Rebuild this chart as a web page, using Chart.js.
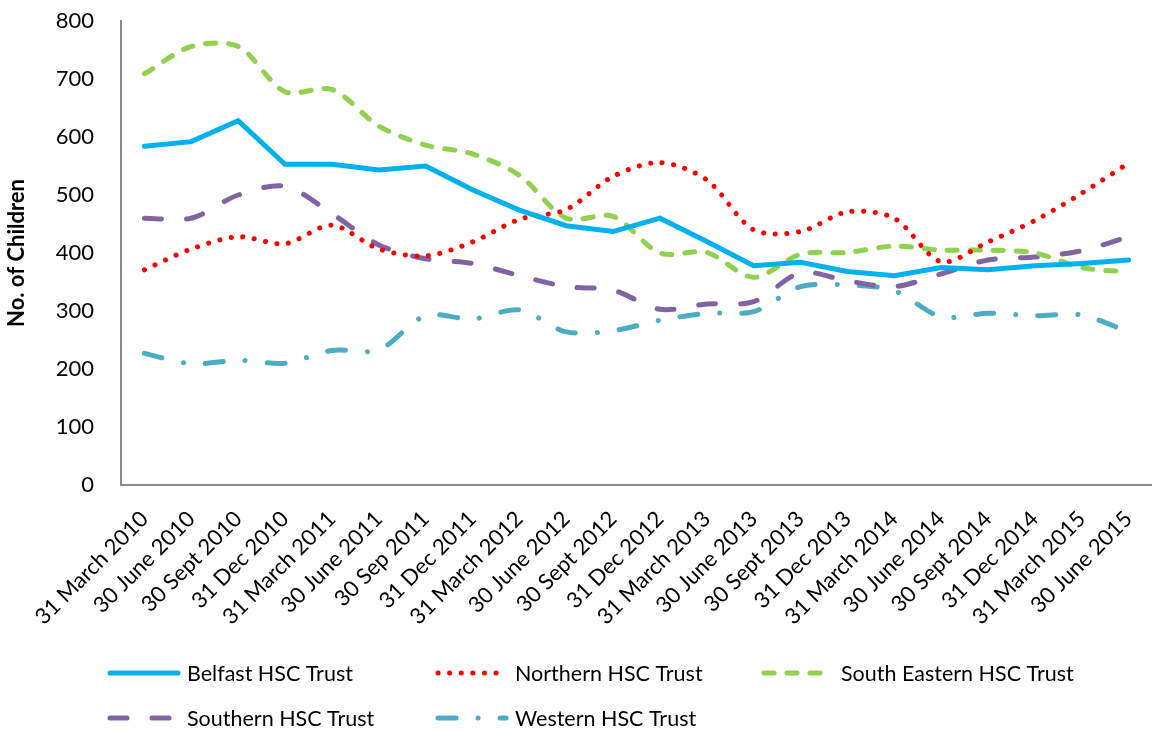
<!DOCTYPE html>
<html>
<head>
<meta charset="utf-8">
<script src="https://cdn.jsdelivr.net/npm/chart.js@4.4.1/dist/chart.umd.min.js"></script>
<style>
  html, body { margin: 0; padding: 0; background: #fff; }
  #wrap { width: 1152px; height: 731px; }
</style>
</head>
<body>
<div id="wrap"><canvas id="myChart" width="1152" height="731"></canvas></div>
<script>
const categorias = ['31 March 2010', '30 June 2010', '30 Sept 2010', '31 Dec 2010', '31 March 2011', '30 June 2011',
  '30 Sep 2011', '31 Dec 2011', '31 March 2012', '30 June 2012', '30 Sept 2012', '31 Dec 2012', '31 March 2013',
  '30 June 2013', '30 Sept 2013', '31 Dec 2013', '31 March 2014', '30 June 2014', '30 Sept 2014', '31 Dec 2014',
  '31 March 2015', '30 June 2015'];

const belfast = [584, 592, 628, 553, 553, 543, 550, 509, 474, 447, 437, 460, 420, 378, 384, 368, 361, 375, 371, 378, 382, 388];
const northern = [371, 407, 428, 416, 448, 407, 395, 419, 458, 475, 532, 556, 526, 440, 437, 471, 460, 385, 419, 456, 503, 555];
const southEastern = [709, 756, 756, 678, 682, 619, 586, 571, 534, 460, 463, 400, 401, 358, 398, 401, 412, 405, 405, 400, 375, 367];
const southern = [460, 460, 500, 515, 468, 414, 390, 382, 361, 342, 336, 303, 312, 316, 366, 352, 342, 364, 388, 393, 404, 428];
const western = [227, 209, 215, 210, 232, 233, 292, 286, 302, 264, 266, 284, 296, 299, 342, 345, 335, 290, 296, 292, 293, 264];

const yTicks = [0, 100, 200, 300, 400, 500, 600, 700, 800];

// legend drawn as a grid, like the original (3 columns, 2 rows)
const leyendaGrid = {
  id: 'leyendaGrid',
  afterDraw(chart) {
    const ctx = chart.ctx;
    const cols = [108, 436, 762];
    const rows = [673, 718];
    chart.data.datasets.forEach((ds, i) => {
      const x = cols[i % 3];
      const y = rows[Math.floor(i / 3)];
      ctx.save();
      ctx.strokeStyle = ds.borderColor;
      ctx.lineWidth = ds.borderWidth;
      ctx.lineCap = ds.borderCapStyle || 'butt';
      ctx.setLineDash(ds.borderDash || []);
      ctx.beginPath();
      ctx.moveTo(x + 2, y);
      ctx.lineTo(x + 70, y);
      ctx.stroke();
      ctx.setLineDash([]);
      ctx.fillStyle = '#000';
      ctx.font = '21.5px Lato';
      ctx.textBaseline = 'middle';
      ctx.fillText(ds.label, x + 79, y + 1);
      ctx.restore();
    });
  }
};

function crearGrafico() {
  const ctx = document.getElementById('myChart').getContext('2d');
  new Chart(ctx, {
    type: 'line',
    data: {
      labels: categorias,
      datasets: [
        { label: 'Belfast HSC Trust', data: belfast, borderColor: '#00B0F0', borderWidth: 5,
          borderCapStyle: 'round', tension: 0 },
        { label: 'Northern HSC Trust', data: northern, borderColor: '#FF0000', borderWidth: 5,
          borderDash: [0.1, 11.5], borderCapStyle: 'round', tension: 0.3 },
        { label: 'South Eastern HSC Trust', data: southEastern, borderColor: '#92D050', borderWidth: 5,
          borderDash: [10, 13], borderCapStyle: 'round', tension: 0.3 },
        { label: 'Southern HSC Trust', data: southern, borderColor: '#8064A2', borderWidth: 5,
          borderDash: [17, 25], borderCapStyle: 'round', tension: 0.3 },
        { label: 'Western HSC Trust', data: western, borderColor: '#4BACC6', borderWidth: 5,
          borderDash: [18, 22, 0.1, 22], borderCapStyle: 'round', tension: 0.3 }
      ]
    },
    options: {
      responsive: false,
      animation: false,
      elements: { point: { radius: 0 } },
      layout: { padding: { left: 0, right: 0, top: 21, bottom: 91 } },
      plugins: { legend: { display: false }, tooltip: { enabled: false } },
      scales: {
        x: {
          offset: true,
          grid: { display: false, drawTicks: false },
          border: { display: true, color: '#898989', width: 2 },
          ticks: { color: '#000', font: { family: 'Lato', size: 22 }, minRotation: 45, maxRotation: 45,
            autoSkip: false, padding: 21 },
          afterFit: (s) => { s.height = 155; s.paddingLeft = 0; s.paddingRight = 0; }
        },
        y: {
          min: 0,
          max: 800,
          afterBuildTicks: (s) => { s.ticks = yTicks.map(v => ({ value: v })); },
          grid: { display: false, drawTicks: false },
          border: { display: true, color: '#898989', width: 2 },
          ticks: { color: '#000', font: { family: 'Lato', size: 22 }, padding: 27 },
          title: { display: true, text: 'No. of Children', color: '#000',
            font: { family: 'Lato', size: 22, weight: 'bold' }, padding: { top: 4, bottom: 0 } },
          afterFit: (s) => { s.width = 121; s.paddingTop = 0; s.paddingBottom = 0; }
        }
      }
    },
    plugins: [leyendaGrid]
  });
}

document.fonts.load('22px Lato').then(crearGrafico, crearGrafico);
</script>
</body>
</html>
